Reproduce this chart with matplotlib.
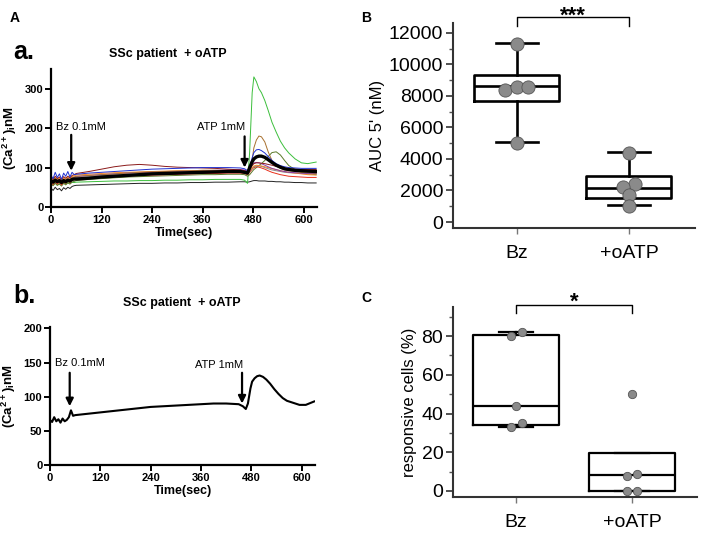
import numpy as np
import matplotlib
matplotlib.use('Agg')
import matplotlib.pyplot as plt
from matplotlib.ticker import MultipleLocator

plt.rcParams['font.family'] = ['Liberation Sans', 'DejaVu Sans']
plt.rcParams['mathtext.fontset'] = 'custom'
plt.rcParams['mathtext.rm'] = 'Liberation Sans'
plt.rcParams['mathtext.bf'] = 'Liberation Sans:bold'

# time grid (sec) for the calcium traces
t = [0, 5, 10, 15, 20, 25, 30, 35, 40, 45, 50, 55,
     60, 90, 120, 150, 180, 210, 240, 270, 300, 330, 360, 390, 420, 450,
     460, 467, 472, 478, 482, 488, 494, 500, 508, 516, 525, 535, 545, 555, 565, 580, 595, 610, 630]

# single cells, panel a
cell_blue = [80, 72, 88, 75, 84, 70, 86, 78, 90, 76, 88, 82,
             83, 86, 88, 90, 92, 94, 96, 97, 98, 99, 100, 100, 100, 99,
             97, 92, 100, 125, 138, 145, 146, 143, 137, 128, 118, 110, 105, 102, 100, 99, 98, 98, 98]
cell_green = [60, 56, 62, 55, 60, 57, 61, 58, 62, 60, 63, 62,
              63, 64, 65, 66, 66, 67, 67, 68, 68, 69, 69, 70, 70, 70,
              68, 60, 140, 290, 330, 318, 300, 290, 270, 245, 215, 190, 167, 150, 137, 122, 112, 110, 114]
cell_brown = [70, 66, 72, 68, 70, 65, 71, 68, 72, 70, 74, 76,
              78, 80, 82, 84, 86, 88, 89, 90, 91, 92, 93, 93, 92, 91,
              88, 84, 95, 120, 150, 170, 180, 178, 165, 140, 118, 105, 98, 94, 92, 90, 88, 87, 86]
cell_darkred = [75, 70, 78, 72, 76, 70, 77, 73, 78, 74, 80, 82,
                85, 90, 96, 102, 106, 108, 106, 103, 101, 100, 99, 98, 96, 94,
                92, 90, 95, 105, 110, 112, 112, 111, 110, 108, 106, 103, 100, 98, 97, 96, 95, 95, 95]
cell_black = [48, 42, 50, 44, 47, 41, 49, 45, 50, 47, 52, 54,
              55, 56, 57, 58, 59, 60, 60, 61, 61, 62, 62, 63, 63, 64,
              64, 63, 64, 66, 67, 67, 66, 66, 66, 65, 65, 64, 64, 63, 63, 62, 62, 61, 61]
cell_purple = [68, 64, 70, 66, 69, 63, 70, 66, 71, 68, 73, 75,
               77, 80, 82, 84, 86, 87, 88, 89, 90, 91, 92, 93, 94, 95,
               94, 88, 96, 108, 112, 113, 112, 110, 106, 102, 98, 95, 92, 90, 88, 87, 86, 85, 85]
cell_olive = [58, 54, 60, 55, 58, 53, 60, 56, 61, 58, 63, 65,
              67, 70, 72, 74, 76, 77, 78, 79, 80, 81, 82, 82, 83, 83,
              82, 78, 82, 90, 95, 100, 105, 110, 118, 128, 138, 140, 132, 118, 105, 95, 88, 84, 82]
cell_red = [62, 57, 65, 58, 63, 56, 64, 60, 66, 62, 68, 70,
            72, 74, 76, 78, 79, 80, 81, 82, 83, 84, 85, 85, 86, 86,
            85, 82, 88, 96, 100, 102, 101, 99, 96, 92, 88, 85, 82, 80, 78, 77, 76, 75, 75]
cell_orange = [72, 68, 74, 70, 73, 67, 74, 70, 75, 72, 77, 79,
               81, 83, 85, 87, 88, 89, 90, 91, 92, 92, 93, 93, 93, 92,
               90, 86, 92, 100, 104, 106, 105, 104, 102, 100, 97, 95, 92, 90, 88, 86, 84, 82, 81]
cell_gray = [66, 62, 68, 64, 67, 61, 68, 64, 69, 66, 71, 73,
             75, 77, 79, 81, 83, 84, 85, 86, 87, 88, 89, 89, 89, 88,
             87, 84, 90, 98, 102, 104, 104, 103, 100, 97, 94, 92, 90, 88, 87, 86, 85, 84, 84]
mean_a = [66, 63, 68, 64, 67, 62, 67, 64, 68, 66, 70, 71,
          71, 73, 76, 78, 80, 82, 84, 85, 86, 87, 88, 89, 90, 90,
          88, 86, 100, 115, 122, 127, 129, 129, 126, 120, 113, 106, 101, 97, 95, 93, 92, 91, 90]

# mean trace, panel b
mean_b = [66, 63, 70, 64, 67, 62, 68, 64, 66, 70, 80, 72,
          73, 75, 77, 79, 81, 83, 85, 86, 87, 88, 89, 90, 90, 89,
          86, 82, 90, 112, 122, 127, 130, 131, 129, 125, 119, 111, 104, 98, 94, 91, 88, 88, 93]

cells = [cell_black, cell_green, cell_olive, cell_red, cell_gray, cell_orange,
         cell_purple, cell_darkred, cell_brown, cell_blue]
cell_colors = ['#222222', '#3cbf3c', '#5c7a2a', '#e8301c', '#8a8a8a', '#f2862a',
               '#8a3fa8', '#8b1a1a', '#a8702e', '#2030d0']

# AUC (panel B)
auc_bz = [11300, 8400, 8600, 8600, 5000]
auc_oatp = [4400, 2400, 2200, 1700, 1000]
auc_bz_stats = dict(whislo=5050, q1=7650, med=8620, q3=9300, whishi=11350)
auc_oatp_stats = dict(whislo=1050, q1=1520, med=2160, q3=2920, whishi=4420)
auc_bz_dx = [0, -0.11, 0, 0.1, 0]
auc_oatp_dx = [0, 0.05, -0.05, 0, 0]

# responsive cells (panel C)
resp_bz = [82, 80, 44, 35, 33]
resp_oatp = [50, 9, 8, 0, 0]
resp_bz_stats = dict(whislo=33, q1=34, med=43.8, q3=80.5, whishi=82)
resp_oatp_stats = dict(whislo=0, q1=0, med=8.2, q3=19.6, whishi=19.6)
resp_bz_dx = [0.05, -0.045, 0, 0.05, -0.045]
resp_oatp_dx = [0, 0.046, -0.046, -0.046, 0.046]

groups = ['Bz', '+oATP']

fig = plt.figure(figsize=(7.02, 5.35), dpi=100)
W, H = 702.0, 535.0


def ax_px(l, r, top, bot):
    return fig.add_axes([l / W, 1 - bot / H, (r - l) / W, (bot - top) / H])


def style_trace_ax(ax, ymax, ystep):
    for s in ['top', 'right']:
        ax.spines[s].set_visible(False)
    for s in ['left', 'bottom']:
        ax.spines[s].set_linewidth(1.6)
    ax.set_xlim(0, 632)
    ax.set_ylim(0, ymax)
    ax.set_xticks([0, 120, 240, 360, 480, 600])
    ax.yaxis.set_major_locator(MultipleLocator(ystep))
    ax.tick_params(width=1.4, length=4, labelsize=8, pad=1.5)
    for lab in ax.get_xticklabels() + ax.get_yticklabels():
        lab.set_fontweight('bold')
    ax.set_xlabel('Time(sec)', fontsize=9, fontweight='bold', labelpad=2)
    ax.set_ylabel(r'(Ca$^{\mathbf{2+}}$)$_{\mathbf{i}}$nM', fontsize=9.5, fontweight='bold', labelpad=4)


def arrow(ax, x, y0, y1):
    ax.annotate('', xy=(x, y1), xytext=(x, y0),
                arrowprops=dict(arrowstyle='-|>', color='k', lw=1.6,
                                mutation_scale=11, shrinkA=0, shrinkB=0))


# panel a
axa = ax_px(51, 317, 69, 207)
for vals, c in zip(cells, cell_colors):
    axa.plot(t, vals, color=c, lw=0.7)
axa.plot(t, mean_a, color='k', lw=2.4)
style_trace_ax(axa, 350, 100)
arrow(axa, 48, 183, 92)
arrow(axa, 460, 179, 100)
axa.text(13, 202, 'Bz 0.1mM', fontsize=8, va='center', ha='left')
axa.text(404, 202, 'ATP 1mM', fontsize=8, va='center', ha='center')

# panel b
axb = ax_px(50, 315, 327, 465)
axb.plot(t, mean_b, color='k', lw=1.5)
style_trace_ax(axb, 202, 50)
arrow(axb, 47, 135, 86)
arrow(axb, 458, 135, 90)
axb.text(12, 150, 'Bz 0.1mM', fontsize=8, va='center', ha='left')
axb.text(404, 147, 'ATP 1mM', fontsize=8, va='center', ha='center')

fig.text(168 / W, 1 - 54 / H, 'SSc patient  + oATP', fontsize=9, fontweight='bold', ha='center', va='center')
fig.text(182 / W, 1 - 303 / H, 'SSc patient  + oATP', fontsize=9, fontweight='bold', ha='center', va='center')
fig.text(13 / W, 1 - 59 / H, 'a.', fontsize=18, fontweight='bold', va='baseline')
fig.text(13 / W, 1 - 303 / H, 'b.', fontsize=18, fontweight='bold', va='baseline')
fig.text(10 / W, 1 - 22 / H, 'A', fontsize=10, fontweight='bold', va='baseline')
fig.text(361 / W, 1 - 22 / H, 'B', fontsize=10, fontweight='bold', va='baseline')
fig.text(361 / W, 1 - 302 / H, 'C', fontsize=10, fontweight='bold', va='baseline')


def box_panel(ax, stats, data, dxs, width, capw, lw, ms):
    for s in ['top', 'right']:
        ax.spines[s].set_visible(False)
    for s in ['left', 'bottom']:
        ax.spines[s].set_linewidth(1.5)
        ax.spines[s].set_color('#333333')
    st = []
    for lab, d in zip(groups, stats):
        d = dict(d)
        d['label'] = lab
        st.append(d)
    ax.bxp(st, positions=[1, 2], widths=width, showfliers=False, capwidths=capw,
           boxprops=dict(color='k', lw=lw), medianprops=dict(color='k', lw=lw),
           whiskerprops=dict(color='k', lw=lw), capprops=dict(color='k', lw=lw))
    for i, (vals, dx) in enumerate(zip(data, dxs)):
        ax.plot([i + 1 + d for d in dx], vals, 'o', ms=ms, color='#8a8a8a',
                mec='#555555', mew=0.6, zorder=5, clip_on=False)
    ax.tick_params(axis='y', labelsize=14, length=5, width=1.2, color='#333333', pad=2)
    ax.tick_params(axis='y', which='minor', length=3, width=1, color='#555555')
    ax.tick_params(axis='x', labelsize=14, length=4, width=1, color='#777777', pad=8)


def bracket(ax, y0, y1, ybase, stars, fs):
    ax.plot([1, 1, 2, 2], [y1, y0, y0, y1], color='k', lw=1, clip_on=False)
    ax.text(1.5, ybase, stars, ha='center', va='baseline', fontsize=fs, fontweight='bold')


# panel B
axB = ax_px(453, 695, 23, 228)
box_panel(axB, [auc_bz_stats, auc_oatp_stats], [auc_bz, auc_oatp],
          [auc_bz_dx, auc_oatp_dx], 0.76, 0.38, 1.9, 9.5)
axB.set_xlim(0.43, 2.59)
axB.set_ylim(-380, 12630)
axB.yaxis.set_major_locator(MultipleLocator(2000))
axB.yaxis.set_minor_locator(MultipleLocator(1000))
axB.set_ylabel("AUC 5' (nM)", fontsize=12, labelpad=3)
bracket(axB, 13020, 12440, 12700, '***', 16)

# panel C
axC = ax_px(453, 697, 307, 497)
box_panel(axC, [resp_bz_stats, resp_oatp_stats], [resp_bz, resp_oatp],
          [resp_bz_dx, resp_oatp_dx], 0.74, 0.3, 1.6, 6)
axC.set_xlim(0.457, 2.56)
axC.set_ylim(-3.1, 95)
axC.yaxis.set_major_locator(MultipleLocator(20))
axC.yaxis.set_minor_locator(MultipleLocator(10))
axC.set_ylabel('responsive cells (%)', fontsize=12, labelpad=3)
bracket(axC, 96, 91.9, 94.5, '*', 16)

fig.savefig('out.png', dpi=100)
